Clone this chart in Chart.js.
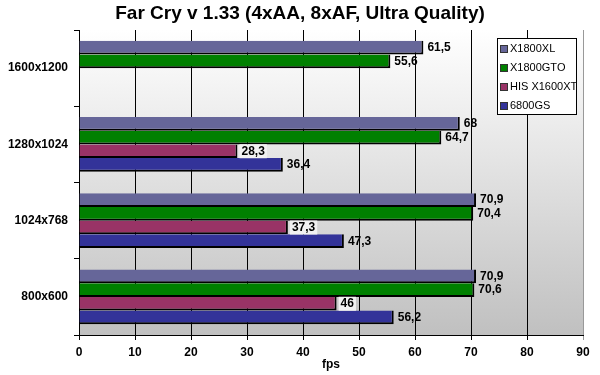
<!DOCTYPE html>
<html>
<head>
<meta charset="utf-8">
<script src="https://cdn.jsdelivr.net/npm/chart.js@4"></script>
<style>
  body { margin: 0; background: #fff; }
</style>
</head>
<body>
<canvas id="farCryChart" width="600" height="375"></canvas>
<script>
const chartTitle = "Far Cry v 1.33 (4xAA, 8xAF, Ultra Quality)";
const categories = ["1600x1200", "1280x1024", "1024x768", "800x600"];
const seriesNames = ["X1800XL", "X1800GTO", "HIS X1600XT", "6800GS"];
const x1800xl = [61.5, 68, 70.9, 70.9];
const x1800gto = [55.6, 64.7, 70.4, 70.6];
const hisX1600xt = [null, 28.3, 37.3, 46];
const gs6800 = [null, 36.4, 47.3, 56.2];
const xTicks = [0, 10, 20, 30, 40, 50, 60, 70, 80, 90];

const colors = ["#666699", "#008000", "#993366", "#333399"];
const fontFamily = "Arial, 'Liberation Sans', sans-serif";

Chart.defaults.color = "#000";
Chart.defaults.font.family = fontFamily;

// Gradient background behind the bars
const plotBackground = {
  id: "plotBackground",
  beforeDraw(chart) {
    const { ctx, chartArea: a } = chart;
    const g = ctx.createLinearGradient(0, a.top, 0, a.bottom);
    g.addColorStop(0, "#ffffff");
    g.addColorStop(1, "#c0c0c0");
    ctx.save();
    ctx.fillStyle = g;
    ctx.fillRect(a.left, a.top, a.right - a.left, a.bottom - a.top);
    ctx.restore();
  },
};

// Title centred on the whole picture
const pageTitle = {
  id: "pageTitle",
  afterDraw(chart) {
    const { ctx } = chart;
    ctx.save();
    ctx.font = "bold 19px " + fontFamily;
    ctx.fillStyle = "#000";
    ctx.textAlign = "center";
    ctx.textBaseline = "middle";
    ctx.fillText(chartTitle, chart.width / 2, 14);
    ctx.restore();
  },
};

// Value labels at bar ends
const valueLabels = {
  id: "valueLabels",
  afterDatasetsDraw(chart) {
    const { ctx } = chart;
    ctx.save();
    ctx.font = "bold 12px " + fontFamily;
    ctx.textBaseline = "middle";
    ctx.textAlign = "left";
    chart.data.datasets.forEach((ds, i) => {
      const meta = chart.getDatasetMeta(i);
      meta.data.forEach((bar, j) => {
        const v = ds.data[j];
        if (v === null || v === undefined) return;
        const text = String(v).replace(".", ",");
        const x = bar.x + 3;
        const y = bar.y;
        if (i === 2) {
          const w = ctx.measureText(text).width;
          ctx.fillStyle = "#f2f2f2";
          ctx.fillRect(x - 1, y - 7, w + 4, 14);
        }
        ctx.fillStyle = "#000";
        ctx.fillText(text, x + 1, y);
      });
    });
    ctx.restore();
  },
};

// Boxed legend inside the plot area
const boxLegend = {
  id: "boxLegend",
  afterDraw(chart) {
    const { ctx } = chart;
    const left = 497, top = 38, w = 79, h = 76;
    ctx.save();
    ctx.fillStyle = "#fff";
    ctx.fillRect(left, top, w, h);
    ctx.strokeStyle = "#000";
    ctx.lineWidth = 1;
    ctx.strokeRect(left + 0.5, top + 0.5, w, h);
    ctx.font = "11px " + fontFamily;
    ctx.textBaseline = "middle";
    chart.data.datasets.forEach((ds, i) => {
      const y = top + 11 + i * 19;
      ctx.fillStyle = ds.backgroundColor;
      ctx.fillRect(left + 4, y - 3, 6, 6);
      ctx.strokeStyle = "#333";
      ctx.strokeRect(left + 3.5, y - 3.5, 7, 7);
      ctx.fillStyle = "#000";
      ctx.fillText(ds.label, left + 13, y);
    });
    ctx.restore();
  },
};

const seriesData = [x1800xl, x1800gto, hisX1600xt, gs6800];

new Chart(document.getElementById("farCryChart").getContext("2d"), {
  type: "bar",
  data: {
    labels: categories,
    datasets: seriesNames.map((name, i) => ({
      label: name,
      data: seriesData[i],
      backgroundColor: colors[i],
      borderColor: "#000",
      borderWidth: { top: 0, left: 0, right: 2, bottom: 2 },
      borderSkipped: false,
      categoryPercentage: 0.72,
      barPercentage: 1.0,
    })),
  },
  options: {
    indexAxis: "y",
    responsive: false,
    devicePixelRatio: 1,
    animation: false,
    layout: { padding: { left: 0, right: 17, top: 30, bottom: 0 } },
    plugins: {
      legend: { display: false },
      tooltip: { enabled: false },
      title: { display: false },
    },
    scales: {
      x: {
        min: 0,
        max: 90,
        afterBuildTicks: (scale) => {
          scale.ticks = xTicks.map((v) => ({ value: v }));
        },
        afterFit: (scale) => {
          scale.height = 40;
        },
        ticks: {
          font: { size: 12, weight: "bold" },
          padding: 5,
          maxRotation: 0,
        },
        grid: {
          color: (c) => (c.tick && c.tick.value === 90 ? "#999" : "#000"),
          lineWidth: 1,
          tickLength: 5,
        },
        border: { color: "#000", width: 1 },
        title: {
          display: true,
          text: "fps",
          font: { size: 12, weight: "bold" },
          padding: { top: 4, bottom: 3 },
        },
      },
      y: {
        afterFit: (scale) => {
          scale.width = 79;
        },
        ticks: {
          font: { size: 12, weight: "bold" },
          padding: 6,
        },
        grid: {
          drawOnChartArea: false,
          color: "#000",
          tickLength: 5,
        },
        border: { color: "#000", width: 1 },
      },
    },
  },
  plugins: [plotBackground, valueLabels, boxLegend, pageTitle],
});
</script>
</body>
</html>
